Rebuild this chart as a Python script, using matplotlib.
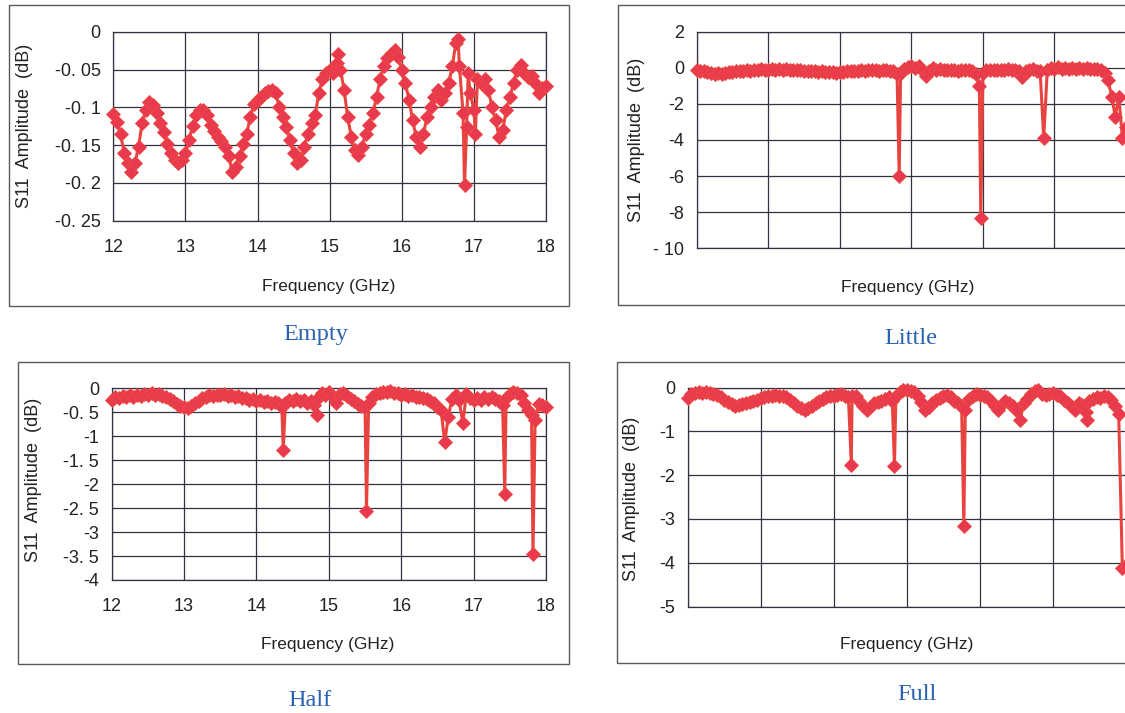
import matplotlib
matplotlib.use("Agg")
import matplotlib.pyplot as plt
import numpy as np
from matplotlib.patches import Rectangle

# frequency sweep shared by all four measurements (GHz)
FREQ_GHZ = [
    12.00, 12.05, 12.10, 12.15, 12.20, 12.25, 12.30, 12.35, 12.40, 12.45,
    12.50, 12.55, 12.60, 12.65, 12.70, 12.75, 12.80, 12.85, 12.90, 12.95,
    13.00, 13.05, 13.10, 13.15, 13.20, 13.25, 13.30, 13.35, 13.40, 13.45,
    13.50, 13.55, 13.60, 13.65, 13.70, 13.75, 13.80, 13.85, 13.90, 13.95,
    14.00, 14.05, 14.10, 14.15, 14.20, 14.25, 14.30, 14.35, 14.40, 14.45,
    14.50, 14.55, 14.60, 14.65, 14.70, 14.75, 14.80, 14.85, 14.90, 14.95,
    15.00, 15.05, 15.10, 15.15, 15.20, 15.25, 15.30, 15.35, 15.40, 15.45,
    15.50, 15.55, 15.60, 15.65, 15.70, 15.75, 15.80, 15.85, 15.90, 15.95,
    16.00, 16.05, 16.10, 16.15, 16.20, 16.25, 16.30, 16.35, 16.40, 16.45,
    16.50, 16.55, 16.60, 16.65, 16.70, 16.75, 16.80, 16.85, 16.90, 16.95,
    17.00, 17.05, 17.10, 17.15, 17.20, 17.25, 17.30, 17.35, 17.40, 17.45,
    17.50, 17.55, 17.60, 17.65, 17.70, 17.75, 17.80, 17.85, 17.90, 17.95,
    18.00,
]

# S11 (dB) on the sweep
EMPTY_S11 = [
    -0.109, -0.120, -0.135, -0.160, -0.174, -0.185, -0.174, -0.152, -0.121, -0.104,
    -0.093, -0.097, -0.108, -0.121, -0.133, -0.148, -0.160, -0.170, -0.174, -0.170,
    -0.160, -0.143, -0.125, -0.110, -0.104, -0.104, -0.110, -0.123, -0.132, -0.139,
    -0.145, -0.152, -0.165, -0.185, -0.179, -0.165, -0.148, -0.135, -0.113, -0.095,
    -0.090, -0.086, -0.081, -0.079, -0.077, -0.081, -0.099, -0.113, -0.126, -0.143,
    -0.160, -0.174, -0.170, -0.152, -0.135, -0.121, -0.110, -0.081, -0.063, -0.055,
    -0.050, -0.055, -0.042, -0.050, -0.077, -0.113, -0.139, -0.157, -0.163, -0.152,
    -0.135, -0.123, -0.108, -0.086, -0.063, -0.046, -0.035, -0.029, -0.024, -0.033,
    -0.050, -0.068, -0.090, -0.117, -0.139, -0.152, -0.135, -0.113, -0.099, -0.086,
    -0.077, -0.090, -0.081, -0.068, -0.046, -0.015, -0.046, -0.108, -0.126, -0.081,
    -0.104, -0.063, -0.068, -0.063, -0.077, -0.099, -0.117, -0.139, -0.130, -0.104,
    -0.086, -0.068, -0.050, -0.044, -0.055, -0.060, -0.058, -0.068, -0.081, -0.075,
    -0.072,
]
EMPTY_EXTRA_FREQ = [15.12, 16.78, 16.87, 16.92, 17.02]
EMPTY_EXTRA_S11 = [-0.029, -0.009, -0.203, -0.055, -0.135]

LITTLE_S11 = [
    -0.10, -0.15, -0.20, -0.25, -0.30, -0.35, -0.30, -0.32, -0.28, -0.25,
    -0.22, -0.20, -0.15, -0.18, -0.12, -0.15, -0.10, -0.12, -0.08, -0.10,
    -0.12, -0.08, -0.10, -0.06, -0.10, -0.08, -0.12, -0.10, -0.14, -0.12,
    -0.16, -0.15, -0.20, -0.18, -0.22, -0.20, -0.25, -0.22, -0.25, -0.28,
    -0.25, -0.22, -0.20, -0.18, -0.15, -0.18, -0.12, -0.15, -0.10, -0.14,
    -0.12, -0.16, -0.14, -0.12, -0.16, -0.20, -0.35, -0.30, -0.05, 0.05,
    0.10, 0.00, 0.08, -0.10, -0.45, -0.15, -0.02, -0.10, -0.05, -0.12,
    -0.10, -0.14, -0.10, -0.15, -0.12, -0.10, -0.14, -0.20, -0.35, -1.00,
    -0.30, -0.10, -0.12, -0.10, -0.14, -0.10, -0.12, -0.08, -0.12, -0.10,
    -0.15, -0.50, -0.15, -0.10, -0.08, -0.15, -0.20, -3.90, -0.10, 0.00,
    -0.05, 0.02, -0.05, 0.00, -0.04, 0.00, -0.05, -0.02, -0.06, -0.02,
    -0.05, -0.08, -0.05, -0.12, -0.30, -0.70, -1.60, -2.70, -1.60, -3.90,
    -3.30,
]
LITTLE_EXTRA_FREQ = [14.83, 15.97]
LITTLE_EXTRA_S11 = [-6.0, -8.3]

HALF_S11 = [
    -0.24, -0.18, -0.20, -0.16, -0.19, -0.15, -0.18, -0.14, -0.16, -0.12,
    -0.14, -0.10, -0.13, -0.12, -0.16, -0.18, -0.22, -0.27, -0.32, -0.37,
    -0.40, -0.42, -0.36, -0.30, -0.26, -0.20, -0.18, -0.15, -0.16, -0.13,
    -0.15, -0.12, -0.16, -0.14, -0.18, -0.17, -0.21, -0.20, -0.24, -0.23,
    -0.27, -0.25, -0.29, -0.27, -0.30, -0.28, -0.31, -0.40, -0.30, -0.24,
    -0.27, -0.22, -0.26, -0.25, -0.30, -0.27, -0.35, -0.20, -0.10, -0.14,
    -0.08, -0.16, -0.30, -0.12, -0.10, -0.16, -0.22, -0.26, -0.32, -0.37,
    -0.40, -0.30, -0.18, -0.12, -0.09, -0.07, -0.08, -0.06, -0.10, -0.09,
    -0.13, -0.12, -0.16, -0.15, -0.19, -0.18, -0.21, -0.22, -0.26, -0.30,
    -0.38, -0.45, -1.12, -0.60, -0.22, -0.15, -0.25, -0.73, -0.12, -0.20,
    -0.24, -0.20, -0.25, -0.19, -0.22, -0.18, -0.23, -0.26, -0.35, -0.20,
    -0.12, -0.08, -0.10, -0.15, -0.30, -0.45, -0.55, -0.66, -0.32, -0.35,
    -0.38,
]
HALF_EXTRA_FREQ = [14.37, 14.83, 15.52, 17.43, 17.82]
HALF_EXTRA_S11 = [-1.29, -0.56, -2.55, -2.20, -3.45]

FULL_S11 = [
    -0.24, -0.15, -0.12, -0.10, -0.13, -0.10, -0.12, -0.15, -0.17, -0.22,
    -0.27, -0.32, -0.37, -0.42, -0.40, -0.38, -0.35, -0.32, -0.30, -0.27,
    -0.24, -0.22, -0.20, -0.18, -0.17, -0.18, -0.20, -0.22, -0.28, -0.35,
    -0.42, -0.47, -0.50, -0.47, -0.42, -0.36, -0.30, -0.26, -0.22, -0.20,
    -0.18, -0.16, -0.14, -0.18, -0.22, -0.20, -0.18, -0.30, -0.42, -0.50,
    -0.44, -0.36, -0.32, -0.30, -0.26, -0.22, -0.30, -0.20, -0.10, -0.06,
    -0.05, -0.07, -0.10, -0.20, -0.32, -0.50, -0.45, -0.36, -0.28, -0.24,
    -0.20, -0.17, -0.22, -0.30, -0.35, -0.45, -0.50, -0.25, -0.18, -0.15,
    -0.16, -0.18, -0.22, -0.30, -0.42, -0.50, -0.38, -0.30, -0.34, -0.42,
    -0.50, -0.74, -0.36, -0.25, -0.15, -0.08, -0.05, -0.14, -0.16, -0.14,
    -0.12, -0.16, -0.20, -0.28, -0.34, -0.42, -0.50, -0.36, -0.40, -0.55,
    -0.30, -0.25, -0.22, -0.24, -0.20, -0.22, -0.28, -0.42, -0.60, -4.12,
    -4.05,
]
FULL_EXTRA_FREQ = [14.24, 14.83, 15.78, 17.47]
FULL_EXTRA_S11 = [-1.76, -1.80, -3.15, -0.74]

CAPTIONS = ["Empty", "Little", "Half", "Full"]

EMPTY_TICKS = [0, -0.05, -0.1, -0.15, -0.2, -0.25]
EMPTY_TICK_LABELS = ["0", "-0. 05", "-0. 1", "-0. 15", "-0. 2", "-0. 25"]
LITTLE_TICKS = [2, 0, -2, -4, -6, -8, -10]
LITTLE_TICK_LABELS = ["2", "0", "-2", "-4", "-6", "-8", "- 10"]
HALF_TICKS = [0, -0.5, -1, -1.5, -2, -2.5, -3, -3.5, -4]
HALF_TICK_LABELS = ["0", "-0. 5", "-1", "-1. 5", "-2", "-2. 5", "-3", "-3. 5", "-4"]
FULL_TICKS = [0, -1, -2, -3, -4, -5]
FULL_TICK_LABELS = ["0", "-1", "-2", "-3", "-4", "-5"]
FREQ_TICKS = [12, 13, 14, 15, 16, 17, 18]

W, H = 1125, 713
RED = "#e9394f"
CAPTION_BLUE = "#2a62b2"

plt.rcParams["font.family"] = ["Liberation Sans", "DejaVu Sans"]


def px_box(left, top, right, bottom):
    return [left / W, 1 - bottom / H, (right - left) / W, (bottom - top) / H]


def merged(extra_freq, extra_vals, base_vals):
    frame_x = np.array(FREQ_GHZ + extra_freq)
    frame_y = np.array(base_vals + extra_vals)
    order = np.argsort(frame_x, kind="stable")
    return frame_x[order], frame_y[order]


panels = [
    dict(ax=(113.3, 31.7, 546, 220.7), frame=(9, 5, 569, 306),
         data=merged(EMPTY_EXTRA_FREQ, EMPTY_EXTRA_S11, EMPTY_S11),
         ylim=(-0.25, 0), ticks=EMPTY_TICKS, labels=EMPTY_TICK_LABELS,
         xticks=True, xlab=(0.497, -0.31), ylab=(-0.185, 0.5), cap=(316, 335)),
    dict(ax=(696.7, 31.7, 1126, 248.3), frame=(618, 5, 1135, 305),
         data=merged(LITTLE_EXTRA_FREQ, LITTLE_EXTRA_S11, LITTLE_S11),
         ylim=(-10, 2), ticks=LITTLE_TICKS, labels=LITTLE_TICK_LABELS,
         xticks=False, xlab=(0.492, -0.145), ylab=(-0.12, 0.5), cap=(911, 338)),
    dict(ax=(111.7, 388.3, 546, 580), frame=(18, 362, 569, 664),
         data=merged(HALF_EXTRA_FREQ, HALF_EXTRA_S11, HALF_S11),
         ylim=(-4, 0), ticks=HALF_TICKS, labels=HALF_TICK_LABELS,
         xticks=True, xlab=(0.497, -0.295), ylab=(-0.16, 0.52), cap=(310, 700)),
    dict(ax=(687.7, 387.7, 1126, 606.5), frame=(617, 362, 1135, 663),
         data=merged(FULL_EXTRA_FREQ, FULL_EXTRA_S11, FULL_S11),
         ylim=(-5, 0), ticks=FULL_TICKS, labels=FULL_TICK_LABELS,
         xticks=False, xlab=(0.5, -0.138), ylab=(-0.109, 0.49), cap=(917, 695)),
]

fig = plt.figure(figsize=(W / 100, H / 100), dpi=100)
fig.patch.set_facecolor("white")

for panel, caption in zip(panels, CAPTIONS):
    fl, ft, fr, fb = panel["frame"]
    fig.patches.append(Rectangle((fl / W, 1 - fb / H), (fr - fl) / W, (fb - ft) / H,
                                 transform=fig.transFigure, fill=False,
                                 edgecolor="#5a5a5a", linewidth=1.0))

    ax = fig.add_axes(px_box(*panel["ax"]))
    freq, s11 = panel["data"]
    ax.plot(freq, s11, color="#e8443f", linewidth=2.2, marker="D", markersize=7,
            markerfacecolor=RED, markeredgecolor="#eb4a40", markeredgewidth=0.6,
            clip_on=False, zorder=3)

    ax.set_xlim(12, 18)
    ax.set_ylim(*panel["ylim"])
    ax.set_xticks(FREQ_TICKS)
    ax.set_yticks(panel["ticks"], panel["labels"])
    if not panel["xticks"]:
        ax.set_xticklabels([])
    ax.tick_params(axis="both", length=0, labelsize=13, colors="#222222")
    ax.tick_params(axis="x", pad=13)
    ax.tick_params(axis="y", pad=9)
    ax.grid(True, color="#333340", linewidth=0.9)
    ax.set_axisbelow(True)
    for spine in ax.spines.values():
        spine.set_color("#333340")
        spine.set_linewidth(0.9)

    ax.set_xlabel("Frequency (GHz)", fontsize=12.5, color="#222222")
    ax.xaxis.set_label_coords(*panel["xlab"])
    ax.set_ylabel("S11  Amplitude  (dB)", fontsize=13, color="#222222")
    ax.yaxis.set_label_coords(*panel["ylab"])

    cx, cy = panel["cap"]
    fig.text(cx / W, 1 - cy / H, caption, ha="center", va="center",
             fontsize=17.5, color=CAPTION_BLUE, family="Liberation Serif")

fig.savefig("out.png", dpi=100)
